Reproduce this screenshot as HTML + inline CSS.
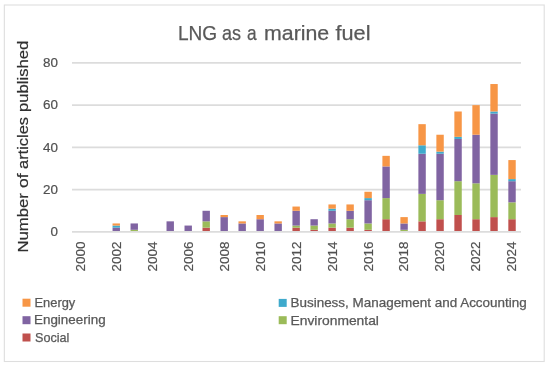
<!DOCTYPE html>
<html><head><meta charset="utf-8"><style>
html,body{margin:0;padding:0;background:#fff;}
svg{display:block;will-change:transform;filter:blur(0.35px);}
text{font-family:"Liberation Sans",sans-serif;fill:#595959;stroke:#595959;stroke-width:0.25px;}
.ax{font-size:13.4px;fill:#505050;stroke:#505050;stroke-width:0.2px;}
.title{font-size:20.4px;}
.yt{font-size:14.6px;fill:#303030;stroke:#303030;stroke-width:0.2px;}
.lg{font-size:12.2px;}
</style></head><body>
<svg width="550" height="368" viewBox="0 0 550 368">
<rect x="4.35" y="5" width="539.85" height="356.5" fill="#fff" stroke="#DEDEDE" stroke-width="1.1"/>
<line x1="72.0" x2="521.0" y1="189.65" y2="189.65" stroke="#DCDCDC" stroke-width="1.8"/>
<line x1="72.0" x2="521.0" y1="147.40" y2="147.40" stroke="#DCDCDC" stroke-width="1.8"/>
<line x1="72.0" x2="521.0" y1="105.15" y2="105.15" stroke="#DCDCDC" stroke-width="1.8"/>
<line x1="72.0" x2="521.0" y1="62.90" y2="62.90" stroke="#DCDCDC" stroke-width="1.8"/>
<rect x="112.55" y="227.68" width="7.4" height="4.22" fill="#8064A2"/>
<rect x="112.55" y="225.56" width="7.4" height="2.11" fill="#3FAACC"/>
<rect x="112.55" y="223.45" width="7.4" height="2.11" fill="#F79646"/>
<rect x="130.54" y="229.79" width="7.4" height="2.11" fill="#9BBB59"/>
<rect x="130.54" y="223.45" width="7.4" height="6.34" fill="#8064A2"/>
<rect x="166.52" y="221.34" width="7.4" height="10.56" fill="#8064A2"/>
<rect x="184.51" y="225.56" width="7.4" height="6.34" fill="#8064A2"/>
<rect x="202.50" y="227.68" width="7.4" height="4.22" fill="#C0504D"/>
<rect x="202.50" y="221.34" width="7.4" height="6.34" fill="#9BBB59"/>
<rect x="202.50" y="210.78" width="7.4" height="10.56" fill="#8064A2"/>
<rect x="220.49" y="217.11" width="7.4" height="14.79" fill="#8064A2"/>
<rect x="220.49" y="215.00" width="7.4" height="2.11" fill="#F79646"/>
<rect x="238.48" y="223.45" width="7.4" height="8.45" fill="#8064A2"/>
<rect x="238.48" y="221.34" width="7.4" height="2.11" fill="#F79646"/>
<rect x="256.47" y="219.22" width="7.4" height="12.67" fill="#8064A2"/>
<rect x="256.47" y="215.00" width="7.4" height="4.22" fill="#F79646"/>
<rect x="274.46" y="223.45" width="7.4" height="8.45" fill="#8064A2"/>
<rect x="274.46" y="221.34" width="7.4" height="2.11" fill="#F79646"/>
<rect x="292.45" y="227.68" width="7.4" height="4.22" fill="#C0504D"/>
<rect x="292.45" y="225.56" width="7.4" height="2.11" fill="#9BBB59"/>
<rect x="292.45" y="210.78" width="7.4" height="14.79" fill="#8064A2"/>
<rect x="292.45" y="206.55" width="7.4" height="4.22" fill="#F79646"/>
<rect x="310.44" y="229.79" width="7.4" height="2.11" fill="#C0504D"/>
<rect x="310.44" y="225.56" width="7.4" height="4.22" fill="#9BBB59"/>
<rect x="310.44" y="219.22" width="7.4" height="6.34" fill="#8064A2"/>
<rect x="328.43" y="227.68" width="7.4" height="4.22" fill="#C0504D"/>
<rect x="328.43" y="223.45" width="7.4" height="4.22" fill="#9BBB59"/>
<rect x="328.43" y="210.78" width="7.4" height="12.67" fill="#8064A2"/>
<rect x="328.43" y="208.66" width="7.4" height="2.11" fill="#3FAACC"/>
<rect x="328.43" y="204.44" width="7.4" height="4.22" fill="#F79646"/>
<rect x="346.42" y="227.68" width="7.4" height="4.22" fill="#C0504D"/>
<rect x="346.42" y="219.22" width="7.4" height="8.45" fill="#9BBB59"/>
<rect x="346.42" y="210.78" width="7.4" height="8.45" fill="#8064A2"/>
<rect x="346.42" y="204.44" width="7.4" height="6.34" fill="#F79646"/>
<rect x="364.41" y="229.79" width="7.4" height="2.11" fill="#C0504D"/>
<rect x="364.41" y="223.45" width="7.4" height="6.34" fill="#9BBB59"/>
<rect x="364.41" y="200.21" width="7.4" height="23.24" fill="#8064A2"/>
<rect x="364.41" y="198.10" width="7.4" height="2.11" fill="#3FAACC"/>
<rect x="364.41" y="191.76" width="7.4" height="6.34" fill="#F79646"/>
<rect x="382.40" y="219.22" width="7.4" height="12.67" fill="#C0504D"/>
<rect x="382.40" y="198.10" width="7.4" height="21.12" fill="#9BBB59"/>
<rect x="382.40" y="166.41" width="7.4" height="31.69" fill="#8064A2"/>
<rect x="382.40" y="155.85" width="7.4" height="10.56" fill="#F79646"/>
<rect x="400.39" y="229.79" width="7.4" height="2.11" fill="#9BBB59"/>
<rect x="400.39" y="223.45" width="7.4" height="6.34" fill="#8064A2"/>
<rect x="400.39" y="217.11" width="7.4" height="6.34" fill="#F79646"/>
<rect x="418.38" y="221.34" width="7.4" height="10.56" fill="#C0504D"/>
<rect x="418.38" y="193.88" width="7.4" height="27.46" fill="#9BBB59"/>
<rect x="418.38" y="153.74" width="7.4" height="40.14" fill="#8064A2"/>
<rect x="418.38" y="145.29" width="7.4" height="8.45" fill="#3FAACC"/>
<rect x="418.38" y="124.16" width="7.4" height="21.12" fill="#F79646"/>
<rect x="436.37" y="219.22" width="7.4" height="12.67" fill="#C0504D"/>
<rect x="436.37" y="200.21" width="7.4" height="19.01" fill="#9BBB59"/>
<rect x="436.37" y="153.74" width="7.4" height="46.47" fill="#8064A2"/>
<rect x="436.37" y="151.62" width="7.4" height="2.11" fill="#3FAACC"/>
<rect x="436.37" y="134.73" width="7.4" height="16.90" fill="#F79646"/>
<rect x="454.36" y="215.00" width="7.4" height="16.90" fill="#C0504D"/>
<rect x="454.36" y="181.20" width="7.4" height="33.80" fill="#9BBB59"/>
<rect x="454.36" y="138.95" width="7.4" height="42.25" fill="#8064A2"/>
<rect x="454.36" y="136.84" width="7.4" height="2.11" fill="#3FAACC"/>
<rect x="454.36" y="111.49" width="7.4" height="25.35" fill="#F79646"/>
<rect x="472.35" y="219.22" width="7.4" height="12.67" fill="#C0504D"/>
<rect x="472.35" y="183.31" width="7.4" height="35.91" fill="#9BBB59"/>
<rect x="472.35" y="134.73" width="7.4" height="48.59" fill="#8064A2"/>
<rect x="472.35" y="105.15" width="7.4" height="29.57" fill="#F79646"/>
<rect x="490.34" y="217.11" width="7.4" height="14.79" fill="#C0504D"/>
<rect x="490.34" y="174.86" width="7.4" height="42.25" fill="#9BBB59"/>
<rect x="490.34" y="113.60" width="7.4" height="61.26" fill="#8064A2"/>
<rect x="490.34" y="111.49" width="7.4" height="2.11" fill="#3FAACC"/>
<rect x="490.34" y="84.03" width="7.4" height="27.46" fill="#F79646"/>
<rect x="508.33" y="219.22" width="7.4" height="12.67" fill="#C0504D"/>
<rect x="508.33" y="202.33" width="7.4" height="16.90" fill="#9BBB59"/>
<rect x="508.33" y="181.20" width="7.4" height="21.12" fill="#8064A2"/>
<rect x="508.33" y="179.09" width="7.4" height="2.11" fill="#3FAACC"/>
<rect x="508.33" y="160.08" width="7.4" height="19.01" fill="#F79646"/>
<line x1="72.0" x2="521.0" y1="231.9" y2="231.9" stroke="#DCDCDC" stroke-width="1.8"/>
<rect x="22.5" y="298.7" width="8" height="8" fill="#F79646"/>
<rect x="22.5" y="316.2" width="8" height="8" fill="#8064A2"/>
<rect x="22.5" y="333.5" width="8" height="8" fill="#C0504D"/>
<rect x="278.7" y="298.9" width="8" height="8" fill="#3FAACC"/>
<rect x="278.7" y="316.2" width="8" height="8" fill="#9BBB59"/>
<text x="178.00" y="40.00" class="title" textLength="39.20" lengthAdjust="spacingAndGlyphs">LNG</text>
<text x="222.00" y="40.00" class="title" textLength="19.00" lengthAdjust="spacingAndGlyphs">as</text>
<text x="247.00" y="40.00" class="title" textLength="9.60" lengthAdjust="spacingAndGlyphs">a</text>
<text x="264.00" y="40.00" class="title" textLength="65.20" lengthAdjust="spacingAndGlyphs">marine</text>
<text x="335.50" y="40.00" class="title" textLength="35.00" lengthAdjust="spacingAndGlyphs">fuel</text>
<text transform="translate(27.70,252.50) rotate(-90)" class="yt" textLength="59.40" lengthAdjust="spacingAndGlyphs">Number</text>
<text transform="translate(27.70,188.00) rotate(-90)" class="yt" textLength="14.60" lengthAdjust="spacingAndGlyphs">of</text>
<text transform="translate(27.70,169.00) rotate(-90)" class="yt" textLength="52.00" lengthAdjust="spacingAndGlyphs">articles</text>
<text transform="translate(27.70,112.00) rotate(-90)" class="yt" textLength="71.40" lengthAdjust="spacingAndGlyphs">published</text>
<text x="34.50" y="306.90" class="lg" textLength="40.80" lengthAdjust="spacingAndGlyphs">Energy</text>
<text x="34.00" y="324.40" class="lg" textLength="71.60" lengthAdjust="spacingAndGlyphs">Engineering</text>
<text x="35.00" y="341.70" class="lg" textLength="34.40" lengthAdjust="spacingAndGlyphs">Social</text>
<text x="290.50" y="307.00" class="lg" textLength="236.20" lengthAdjust="spacingAndGlyphs">Business, Management and Accounting</text>
<text x="290.50" y="324.50" class="lg" textLength="88.40" lengthAdjust="spacingAndGlyphs">Environmental</text>
<text x="57.90" y="236.20" class="ax" text-anchor="end">0</text>
<text x="57.90" y="193.95" class="ax" text-anchor="end">20</text>
<text x="57.90" y="151.70" class="ax" text-anchor="end">40</text>
<text x="57.90" y="109.45" class="ax" text-anchor="end">60</text>
<text x="57.90" y="67.20" class="ax" text-anchor="end">80</text>
<text transform="translate(84.67,241.60) rotate(-90)" class="ax" text-anchor="end">2000</text>
<text transform="translate(120.65,241.60) rotate(-90)" class="ax" text-anchor="end">2002</text>
<text transform="translate(156.63,241.60) rotate(-90)" class="ax" text-anchor="end">2004</text>
<text transform="translate(192.61,241.60) rotate(-90)" class="ax" text-anchor="end">2006</text>
<text transform="translate(228.59,241.60) rotate(-90)" class="ax" text-anchor="end">2008</text>
<text transform="translate(264.57,241.60) rotate(-90)" class="ax" text-anchor="end">2010</text>
<text transform="translate(300.55,241.60) rotate(-90)" class="ax" text-anchor="end">2012</text>
<text transform="translate(336.53,241.60) rotate(-90)" class="ax" text-anchor="end">2014</text>
<text transform="translate(372.51,241.60) rotate(-90)" class="ax" text-anchor="end">2016</text>
<text transform="translate(408.49,241.60) rotate(-90)" class="ax" text-anchor="end">2018</text>
<text transform="translate(444.47,241.60) rotate(-90)" class="ax" text-anchor="end">2020</text>
<text transform="translate(480.45,241.60) rotate(-90)" class="ax" text-anchor="end">2022</text>
<text transform="translate(516.43,241.60) rotate(-90)" class="ax" text-anchor="end">2024</text>
</svg>
</body></html>
